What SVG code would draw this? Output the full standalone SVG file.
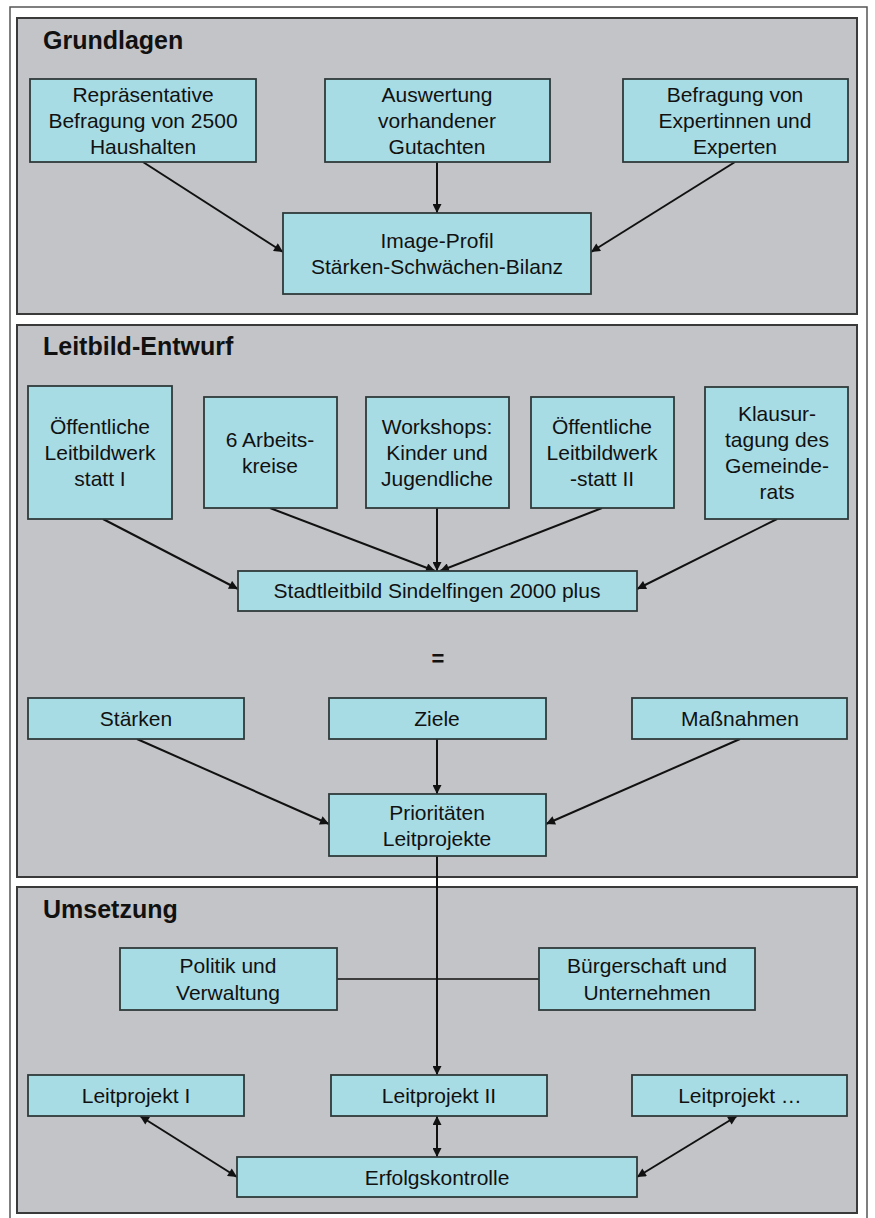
<svg xmlns="http://www.w3.org/2000/svg" width="875" height="1218" viewBox="0 0 875 1218">
<defs>
<marker id="ah" viewBox="0 0 10 10" refX="10" refY="5" markerWidth="11" markerHeight="9" markerUnits="userSpaceOnUse" orient="auto-start-reverse">
<path d="M0,0 L10,5 L0,10 z" fill="#111"/>
</marker>
<style>
.panel{fill:#c3c4c7;stroke:#3a3a3a;stroke-width:2}
.box{fill:#a8dce4;stroke:#2f3a3a;stroke-width:1.8}
.t{font-family:"Liberation Sans",Arial,sans-serif;font-size:21px;fill:#111;text-anchor:middle}
.h{font-family:"Liberation Sans",Arial,sans-serif;font-size:25px;font-weight:bold;fill:#111}
.c{stroke:#111;stroke-width:2;fill:none}
.ca{stroke:#111;stroke-width:2;fill:none;marker-end:url(#ah)}
.cb{stroke:#111;stroke-width:2;fill:none;marker-end:url(#ah);marker-start:url(#ah)}
</style>
</defs>
<rect x="0" y="0" width="875" height="1218" fill="#ffffff"/>
<rect x="10" y="7" width="857" height="1230" fill="#ffffff" stroke="#555" stroke-width="1.5"/>

<g id="panel-grundlagen">
<rect class="panel" x="17" y="18" width="840" height="296"/>
<text class="h" x="43" y="49">Grundlagen</text>
</g>
<g id="panel-leitbild">
<rect class="panel" x="17" y="325" width="840" height="552"/>
<text class="h" x="43" y="355">Leitbild-Entwurf</text>
</g>
<g id="panel-umsetzung">
<rect class="panel" x="17" y="887" width="840" height="326"/>
<text class="h" x="43" y="918">Umsetzung</text>
</g>

<g id="connectors">
<line class="ca" x1="143" y1="162" x2="283" y2="252"/>
<line class="ca" x1="437" y1="162" x2="437" y2="213"/>
<line class="ca" x1="735" y1="162" x2="591" y2="252"/>

<line class="ca" x1="103" y1="519" x2="238" y2="589"/>
<line class="ca" x1="270" y1="508" x2="435" y2="571"/>
<line class="ca" x1="437" y1="508" x2="437" y2="571"/>
<line class="ca" x1="602" y1="508" x2="440" y2="571"/>
<line class="ca" x1="777" y1="519" x2="637" y2="589"/>

<line class="ca" x1="137" y1="739" x2="329" y2="824"/>
<line class="ca" x1="437" y1="739" x2="437" y2="794"/>
<line class="ca" x1="740" y1="739" x2="546" y2="824"/>

<line class="c" x1="337" y1="979" x2="539" y2="979" style="stroke-width:1.5"/>
<line class="ca" x1="437" y1="856" x2="437" y2="1075"/>

<line class="cb" x1="140" y1="1116" x2="237" y2="1177"/>
<line class="cb" x1="437" y1="1116" x2="437" y2="1157"/>
<line class="cb" x1="737" y1="1116" x2="637" y2="1177"/>
</g>

<g id="n-repraesentative">
<rect class="box" x="30" y="79" width="226" height="83"/>
<text class="t" x="143" y="102">Repräsentative</text>
<text class="t" x="143" y="128">Befragung von 2500</text>
<text class="t" x="143" y="154">Haushalten</text>
</g>
<g id="n-auswertung">
<rect class="box" x="325" y="79" width="225" height="83"/>
<text class="t" x="437" y="102">Auswertung</text>
<text class="t" x="437" y="128">vorhandener</text>
<text class="t" x="437" y="154">Gutachten</text>
</g>
<g id="n-befragung">
<rect class="box" x="623" y="79" width="225" height="83"/>
<text class="t" x="735" y="102">Befragung von</text>
<text class="t" x="735" y="128">Expertinnen und</text>
<text class="t" x="735" y="154">Experten</text>
</g>
<g id="n-imageprofil">
<rect class="box" x="283" y="213" width="308" height="81"/>
<text class="t" x="437" y="248">Image-Profil</text>
<text class="t" x="437" y="274">Stärken-Schwächen-Bilanz</text>
</g>

<g id="n-werkstatt1">
<rect class="box" x="28" y="386" width="144" height="133"/>
<text class="t" x="100" y="434">Öffentliche</text>
<text class="t" x="100" y="460">Leitbildwerk</text>
<text class="t" x="100" y="486">statt I</text>
</g>
<g id="n-arbeitskreise">
<rect class="box" x="204" y="397" width="133" height="111"/>
<text class="t" x="270" y="447">6 Arbeits-</text>
<text class="t" x="270" y="473">kreise</text>
</g>
<g id="n-workshops">
<rect class="box" x="366" y="397" width="143" height="111"/>
<text class="t" x="437" y="434">Workshops:</text>
<text class="t" x="437" y="460">Kinder und</text>
<text class="t" x="437" y="486">Jugendliche</text>
</g>
<g id="n-werkstatt2">
<rect class="box" x="531" y="397" width="143" height="111"/>
<text class="t" x="602" y="434">Öffentliche</text>
<text class="t" x="602" y="460">Leitbildwerk</text>
<text class="t" x="602" y="486">-statt II</text>
</g>
<g id="n-klausur">
<rect class="box" x="705" y="387" width="143" height="132"/>
<text class="t" x="777" y="421">Klausur-</text>
<text class="t" x="777" y="447">tagung des</text>
<text class="t" x="777" y="473">Gemeinde-</text>
<text class="t" x="777" y="499">rats</text>
</g>
<g id="n-stadtleitbild">
<rect class="box" x="238" y="571" width="399" height="40"/>
<text class="t" x="437" y="598">Stadtleitbild Sindelfingen 2000 plus</text>
</g>
<g id="eq">
<text class="t" x="438" y="666" style="font-weight:bold;font-size:22px">=</text>
</g>
<g id="n-staerken">
<rect class="box" x="28" y="698" width="216" height="41"/>
<text class="t" x="136" y="726">Stärken</text>
</g>
<g id="n-ziele">
<rect class="box" x="329" y="698" width="217" height="41"/>
<text class="t" x="437" y="726">Ziele</text>
</g>
<g id="n-massnahmen">
<rect class="box" x="632" y="698" width="215" height="41"/>
<text class="t" x="740" y="726">Maßnahmen</text>
</g>
<g id="n-prioritaeten">
<rect class="box" x="329" y="794" width="217" height="62"/>
<text class="t" x="437" y="820">Prioritäten</text>
<text class="t" x="437" y="846">Leitprojekte</text>
</g>

<g id="n-politik">
<rect class="box" x="120" y="948" width="217" height="62"/>
<text class="t" x="228" y="973">Politik und</text>
<text class="t" x="228" y="1000">Verwaltung</text>
</g>
<g id="n-buergerschaft">
<rect class="box" x="539" y="948" width="216" height="62"/>
<text class="t" x="647" y="973">Bürgerschaft und</text>
<text class="t" x="647" y="1000">Unternehmen</text>
</g>
<g id="n-leitprojekt1">
<rect class="box" x="28" y="1075" width="216" height="41"/>
<text class="t" x="136" y="1103">Leitprojekt I</text>
</g>
<g id="n-leitprojekt2">
<rect class="box" x="331" y="1075" width="216" height="41"/>
<text class="t" x="439" y="1103">Leitprojekt II</text>
</g>
<g id="n-leitprojekt3">
<rect class="box" x="632" y="1075" width="215" height="41"/>
<text class="t" x="740" y="1103">Leitprojekt …</text>
</g>
<g id="n-erfolgskontrolle">
<rect class="box" x="237" y="1157" width="400" height="40"/>
<text class="t" x="437" y="1185">Erfolgskontrolle</text>
</g>
</svg>
